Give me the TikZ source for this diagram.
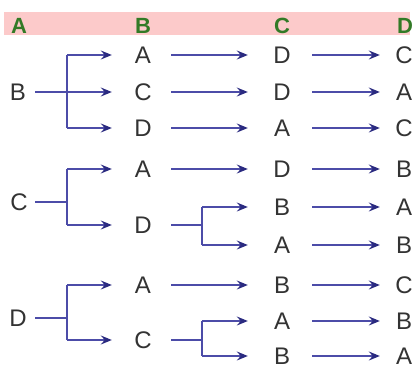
\documentclass[tikz,border=0pt]{standalone}
\usepackage{fontspec}
\setmainfont{Liberation Sans}
\usetikzlibrary{arrows.meta}
\definecolor{ln}{HTML}{4C4CA8}
\definecolor{tipc}{HTML}{2A2A80}
\definecolor{hdr}{HTML}{FCCACA}
\definecolor{grn}{HTML}{327A26}
\definecolor{txt}{HTML}{333333}
\begin{document}
\begin{tikzpicture}[x=1pt,y=-1pt,
 lt/.style={font=\fontsize{24}{24}\selectfont, text=txt, inner sep=0pt, minimum width=20pt, minimum height=18pt},
 hd/.style={font=\fontsize{22}{22}\selectfont\bfseries, text=grn, inner sep=0pt},
 br/.style={draw=ln, line width=1.2pt},
 ar/.style={br, -{Stealth[length=11pt,width=9pt,inset=4pt,color=tipc]}},
 toB/.style={ar, shorten >=21pt},
 toC/.style={ar, shorten >=24pt},
 toD/.style={ar, shorten >=14pt},
 fromB/.style={shorten <=18pt},
 fromC/.style={shorten <=20pt},
]
\useasboundingbox (0,0) rectangle (414,367);
\fill[white] (0,0) rectangle (414,367);
\fill[hdr] (4,12) rectangle (410,35);
% headers
\node[hd] (hA) at (19,26) {A};
\node[hd] (hB) at (143,26) {B};
\node[hd] (hC) at (282,26) {C};
\node[hd] (hD) at (405,26) {D};
% left column
\node[lt] (LB) at (18,92) {B};
\node[lt] (LC) at (19,202) {C};
\node[lt] (LD) at (18,318) {D};
% column B
\node[lt] (b1) at (143,55) {A};
\node[lt] (b2) at (143,92) {C};
\node[lt] (b3) at (143,128) {D};
\node[lt] (b4) at (143,169) {A};
\node[lt] (b5) at (143,225) {D};
\node[lt] (b6) at (143,285) {A};
\node[lt] (b7) at (143,340) {C};
% column C
\node[lt] (c1) at (282,55) {D};
\node[lt] (c2) at (282,92) {D};
\node[lt] (c3) at (282,128) {A};
\node[lt] (c4) at (282,169) {D};
\node[lt] (c5) at (282,207) {B};
\node[lt] (c6) at (282,245) {A};
\node[lt] (c7) at (282,285) {B};
\node[lt] (c8) at (282,321) {A};
\node[lt] (c9) at (282,356) {B};
% column D
\node[lt] (d1) at (404,55) {C};
\node[lt] (d2) at (404,92) {A};
\node[lt] (d3) at (404,128) {C};
\node[lt] (d4) at (404,169) {B};
\node[lt] (d5) at (404,207) {A};
\node[lt] (d6) at (404,245) {B};
\node[lt] (d7) at (404,285) {C};
\node[lt] (d8) at (404,321) {B};
\node[lt] (d9) at (404,356) {A};
% junctions
\coordinate (jB) at (67,92);
\coordinate (jC) at (67,202);
\coordinate (jD) at (67,318);
\coordinate (j5) at (202,225);
\coordinate (j7) at (202,340);
% left branches
\draw[br, shorten <=7pt] (LB.east) -- (jB);
\draw[br] (jB |- b1) -- (jB |- b3);
\foreach \n in {b1,b2,b3} \draw[toB] (jB |- \n) -- (\n.west);
\draw[br, shorten <=6pt] (LC.east) -- (jC);
\draw[br] (jC |- b4) -- (jC |- b5);
\foreach \n in {b4,b5} \draw[toB] (jC |- \n) -- (\n.west);
\draw[br, shorten <=7pt] (LD.east) -- (jD);
\draw[br] (jD |- b6) -- (jD |- b7);
\foreach \n in {b6,b7} \draw[toB] (jD |- \n) -- (\n.west);
% column B to column C
\draw[toC, fromB] (b1.east) -- (c1.west);
\draw[toC, fromB] (b2.east) -- (c2.west);
\draw[toC, fromB] (b3.east) -- (c3.west);
\draw[toC, fromB] (b4.east) -- (c4.west);
\draw[toC, fromB] (b6.east) -- (c7.west);
\draw[br, fromB] (b5.east) -- (j5);
\draw[br] (j5 |- c5) -- (j5 |- c6);
\foreach \n in {c5,c6} \draw[toC] (j5 |- \n) -- (\n.west);
\draw[br, fromB] (b7.east) -- (j7);
\draw[br] (j7 |- c8) -- (j7 |- c9);
\foreach \n in {c8,c9} \draw[toC] (j7 |- \n) -- (\n.west);
% column C to column D
\foreach \i in {1,...,9} \draw[toD, fromC] (c\i.east) -- (d\i.west);
\end{tikzpicture}
\end{document}
